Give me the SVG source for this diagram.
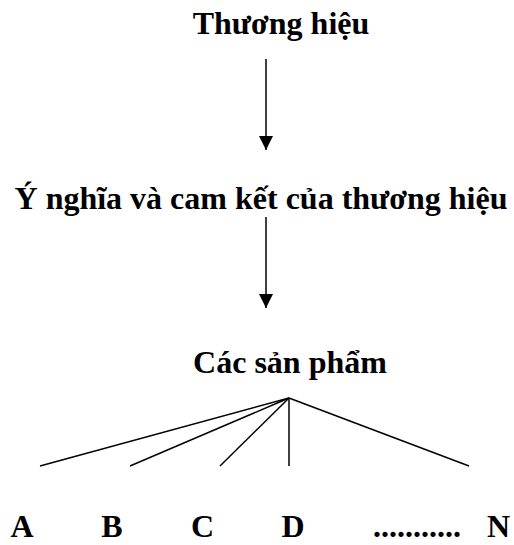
<svg xmlns="http://www.w3.org/2000/svg" width="514" height="545" viewBox="0 0 514 545">
  <style>
    .lbl { font-family: "Liberation Serif", "Times New Roman", serif; font-weight: bold; font-size: 32px; fill: #000; }
    .ln { stroke: #000; stroke-width: 1.5; fill: none; }
  </style>
  <defs>
    <marker id="arrow" viewBox="0 0 10 10" refX="10" refY="5" markerWidth="15" markerHeight="14" markerUnits="userSpaceOnUse" orient="auto">
      <path d="M0,0 L10,5 L0,10 Z" fill="#000"/>
    </marker>
  </defs>
  <rect width="514" height="545" fill="#fff"/>

  <g id="brand">
    <text class="lbl" x="281" y="34" text-anchor="middle">Thương hiệu</text>
  </g>
  <g id="meaning">
    <text class="lbl" x="261" y="209" text-anchor="middle">Ý nghĩa và cam kết của thương hiệu</text>
  </g>
  <g id="products">
    <text class="lbl" x="290" y="373" text-anchor="middle">Các sản phẩm</text>
  </g>
  <g id="item-a"><text class="lbl" x="22" y="537" text-anchor="middle">A</text></g>
  <g id="item-b"><text class="lbl" x="112" y="537" text-anchor="middle">B</text></g>
  <g id="item-c"><text class="lbl" x="202.5" y="537" text-anchor="middle">C</text></g>
  <g id="item-d"><text class="lbl" x="293" y="537" text-anchor="middle">D</text></g>
  <g id="item-dots"><text class="lbl" x="417" y="537" text-anchor="middle">...........</text></g>
  <g id="item-n"><text class="lbl" x="498.5" y="537" text-anchor="middle">N</text></g>

  <g id="connectors">
    <line class="ln" x1="266" y1="59" x2="266" y2="150" marker-end="url(#arrow)"/>
    <line class="ln" x1="266" y1="217" x2="266" y2="308" marker-end="url(#arrow)"/>
    <line class="ln" x1="289" y1="398" x2="40" y2="466"/>
    <line class="ln" x1="289" y1="398" x2="130" y2="466"/>
    <line class="ln" x1="289" y1="398" x2="220" y2="466"/>
    <line class="ln" x1="289" y1="398" x2="289" y2="466"/>
    <line class="ln" x1="289" y1="398" x2="469" y2="466"/>
  </g>
</svg>
